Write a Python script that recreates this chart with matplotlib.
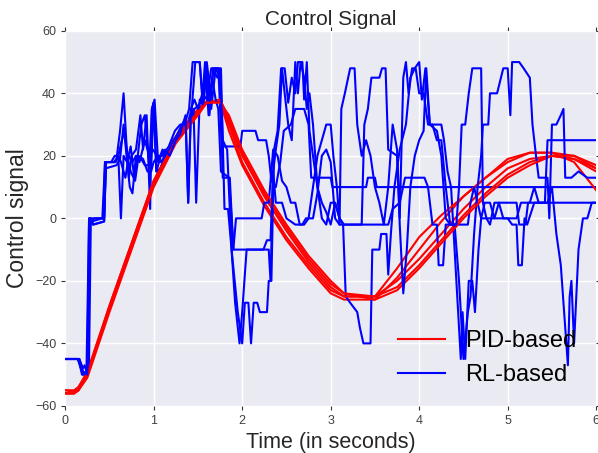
import numpy as np
import matplotlib
matplotlib.use("Agg")
import matplotlib.pyplot as plt

# --- PID-based control signal (5 runs, sampled at common times) ---
pid_time = [0, 0.1, 0.15, 0.25, 0.5, 0.75, 1.0, 1.25, 1.5, 1.6, 1.75, 1.85, 2.0, 2.25,
            2.5, 2.75, 3.0, 3.15, 3.5, 3.75, 4.0, 4.25, 4.5, 4.75, 5.0, 5.25, 5.5, 5.75, 6.0]
pid_run1 = [-56, -56, -55, -50, -29, -9, 11, 25, 34, 37, 38, 31, 20, 7, -4, -14, -22, -25, -25,
            -20, -13, -5, 3, 10, 16, 19, 20, 19, 15]
pid_run2 = [-55, -55.5, -54, -49, -28, -8, 12, 26, 35, 37.5, 37.5, 28, 17, 4, -7, -16, -24, -26,
            -26, -19, -10, -1, 7, 13, 18, 21, 21, 18, 9]
pid_run3 = [-56, -56, -55, -50, -28, -8, 12, 25, 34, 37, 37.5, 30, 18, 5, -6, -15, -23, -25, -25,
            -16, -6, 1, 7, 13, 19, 21, 21, 20, 17]
pid_run4 = [-56, -56, -55, -51, -30, -10, 10, 24, 33, 37, 38, 32, 21, 8, -3, -13, -21, -24, -25,
            -22, -15, -7, 1, 8, 14, 18, 20, 19, 16]
pid_run5 = [-55, -55, -54, -50, -29, -9, 11, 25, 34, 37, 37, 33, 22, 9, -2, -12, -20, -24, -26,
            -23, -16, -8, 0, 7, 13, 17, 20, 20, 16]

# --- RL-based control signal (5 runs, (time, value) breakpoints) ---
rl_run1 = [(0, -45), (0.15, -45), (0.19, -50), (0.24, -50), (0.27, 0), (0.3, -1), (0.33, 0),
           (0.43, 0), (0.45, 18), (0.55, 18), (0.58, 19), (0.62, 28), (0.66, 40), (0.69, 25),
           (0.72, 13), (0.75, 20), (0.8, 22), (0.85, 33), (0.88, 22), (0.92, 33), (0.96, 3),
           (0.98, 35), (1.01, 38), (1.05, 18), (1.1, 22), (1.15, 20), (1.22, 25), (1.3, 28),
           (1.38, 30), (1.43, 35), (1.47, 50), (1.52, 50), (1.56, 36), (1.6, 50), (1.64, 40),
           (1.68, 48), (1.73, 48), (1.77, 23), (1.98, 23), (2.0, 28), (2.15, 28), (2.18, 25),
           (2.27, 25), (2.3, 20), (2.33, 12), (2.38, 10), (2.43, 18), (2.47, 28), (2.55, 30),
           (2.6, 35), (2.7, 35), (2.75, 30), (2.78, 13), (3.0, 13), (3.02, 10), (3.4, 10),
           (3.42, 13), (3.5, 13), (3.52, 10), (6.0, 10)]
rl_run2 = [(0, -45), (0.14, -45), (0.18, -48), (0.23, -50), (0.26, -48), (0.28, 0), (0.31, -2),
           (0.44, -1), (0.46, 18), (0.56, 18), (0.6, 20), (0.63, 0), (0.66, 20), (0.7, 18),
           (0.74, 23), (0.78, 13), (0.82, 20), (0.86, 30), (0.9, 33), (0.94, 20), (0.97, 15),
           (1.0, 37), (1.03, 15), (1.08, 16), (1.12, 20), (1.18, 22), (1.25, 26), (1.32, 30),
           (1.36, 32), (1.39, 5), (1.42, 33), (1.45, 35), (1.48, 5), (1.52, 38), (1.56, 36),
           (1.6, 48), (1.63, 33), (1.67, 48), (1.72, 45), (1.76, 48), (1.8, 3), (1.84, 3),
           (1.88, -10), (1.95, -30), (2.0, -40), (2.03, -27), (2.07, -27), (2.1, -40), (2.13, -27),
           (2.17, -27), (2.2, -30), (2.28, -30), (2.3, -20), (2.33, -20), (2.36, 22), (2.4, 28),
           (2.44, 48), (2.48, 48), (2.52, 37), (2.56, 45), (2.6, 40), (2.63, 50), (2.68, 50),
           (2.7, 38), (2.73, 50), (2.76, 28), (2.8, 20), (2.85, 10), (2.9, 5), (2.95, 2),
           (3.0, -2), (3.05, 5), (3.1, 0), (3.14, -2), (3.17, -25), (3.22, -27), (3.3, -30),
           (3.33, -35), (3.37, -40), (3.45, -40), (3.47, -10), (3.55, -10), (3.57, -5), (3.63, -5),
           (3.65, -18), (3.68, -5), (3.72, 10), (3.78, 22), (3.85, 30), (3.9, 45), (3.95, 48),
           (4.0, 50), (4.03, 38), (4.07, 48), (4.12, 30), (4.25, 30), (4.28, 25), (4.32, 15),
           (4.36, 10), (4.4, -10), (4.44, -30), (4.47, -45), (4.49, -30), (4.52, -45), (4.56, -20),
           (4.6, -20), (4.63, -30), (4.67, -10), (4.7, 0), (4.74, 5), (4.8, 5), (4.85, 0),
           (4.9, 5), (5.1, 5), (5.13, -2), (5.2, -2), (5.23, 5), (6.0, 5)]
rl_run3 = [(0, -45), (0.16, -45), (0.2, -49), (0.25, -50), (0.27, -45), (0.29, 0), (0.32, -2),
           (0.44, -1), (0.46, 16), (0.58, 17), (0.62, 19), (0.66, 30), (0.7, 18), (0.73, 10),
           (0.76, 8), (0.8, 20), (0.84, 18), (0.9, 25), (0.95, 20), (0.99, 22), (1.04, 20),
           (1.08, 18), (1.13, 20), (1.2, 23), (1.28, 26), (1.35, 28), (1.42, 32), (1.46, 35),
           (1.5, 36), (1.55, 38), (1.6, 48), (1.65, 35), (1.7, 48), (1.75, 45), (1.78, 13),
           (1.86, 13), (1.9, -10), (2.24, -10), (2.28, -7), (2.32, -7), (2.35, 15), (2.38, 5),
           (2.45, 5), (2.5, 0), (2.6, -2), (2.68, -2), (2.72, 0), (2.8, 0), (2.85, 8), (2.9, 20),
           (2.95, 22), (3.0, 18), (3.05, 0), (3.1, -2), (3.65, -2), (3.7, 3), (3.78, 5),
           (3.84, 13), (4.06, 13), (4.1, 10), (4.15, -2), (4.2, -2), (4.22, -15), (4.27, -15),
           (4.3, -2), (4.55, -2), (4.58, 5), (4.62, 10), (4.66, 5), (4.7, 0), (5.0, 0),
           (5.05, -2), (5.1, -2), (5.12, -15), (5.16, -15), (5.19, 0), (5.22, -2), (5.3, 5),
           (5.45, 5), (5.5, 10), (5.55, -5), (5.6, -15), (5.65, -35), (5.68, -47), (5.7, -25),
           (5.72, -20), (5.75, -40), (5.8, -10), (5.85, 0), (5.9, 0), (5.95, 5), (6.0, 5)]
rl_run4 = [(0, -45), (0.15, -45), (0.2, -50), (0.25, -49), (0.27, 0), (0.3, 0), (0.44, 0),
           (0.46, 18), (0.57, 18), (0.6, 20), (0.64, 25), (0.67, 28), (0.7, 20), (0.74, 15),
           (0.79, 12), (0.83, 20), (0.88, 19), (0.93, 15), (0.97, 15), (1.0, 18), (1.05, 20),
           (1.1, 20), (1.17, 23), (1.24, 28), (1.3, 30), (1.35, 30), (1.4, 35), (1.44, 50),
           (1.52, 50), (1.55, 38), (1.58, 50), (1.62, 33), (1.66, 45), (1.7, 38), (1.73, 35),
           (1.76, 15), (1.85, 13), (1.88, 0), (1.9, -10), (1.93, 0), (2.22, 0), (2.25, 5),
           (2.3, 5), (2.35, 22), (2.4, 20), (2.45, 12), (2.5, 10), (2.55, 5), (2.6, 5),
           (2.65, -2), (2.7, -2), (2.75, 0), (2.8, 10), (2.85, 20), (2.9, 25), (2.95, 30),
           (3.0, 30), (3.03, 20), (3.07, 10), (3.1, -2), (3.12, 35), (3.16, 40), (3.22, 48),
           (3.27, 48), (3.3, 30), (3.35, 20), (3.4, 25), (3.45, 20), (3.5, 10), (3.55, 5),
           (3.6, -2), (3.65, 10), (3.7, 30), (3.75, 22), (3.78, 0), (3.82, 45), (3.85, 50),
           (3.88, 40), (3.92, 48), (3.96, 48), (4.0, 40), (4.05, 40), (4.1, 30), (4.15, 30),
           (4.2, 25), (4.25, 25), (4.3, 10), (4.35, -2), (4.4, -2), (4.45, -20), (4.5, -45),
           (4.55, -30), (4.58, -25), (4.62, -5), (4.66, 10), (4.7, 20), (4.72, 30), (4.78, 30),
           (4.8, 40), (4.88, 40), (4.95, 48), (5.0, 48), (5.03, 33), (5.05, 50), (5.13, 50),
           (5.18, 48), (5.25, 45), (5.28, 30), (5.32, 20), (5.35, 13), (5.45, 13), (5.47, 0),
           (5.5, 30), (5.55, 30), (5.6, 33), (5.63, 35), (5.65, 13), (5.72, 13), (5.8, 15),
           (5.9, 13), (6.0, 13)]
rl_run5 = [(0, -45), (0.16, -45), (0.2, -48), (0.22, -47), (0.25, -50), (0.28, 0), (0.3, -1),
           (0.42, 0), (0.45, 18), (0.52, 18), (0.56, 20), (0.6, 20), (0.63, 18), (0.68, 13),
           (0.72, 20), (0.76, 18), (0.8, 20), (0.86, 19), (0.9, 17), (0.95, 17), (0.98, 35),
           (1.0, 37), (1.03, 15), (1.08, 20), (1.13, 22), (1.18, 20), (1.25, 25), (1.3, 27),
           (1.36, 33), (1.39, 5), (1.42, 35), (1.46, 38), (1.5, 35), (1.55, 40), (1.6, 38),
           (1.65, 48), (1.75, 48), (1.78, 25), (1.83, 22), (1.88, -10), (1.92, -27), (1.97, -40),
           (2.0, -30), (2.05, -10), (2.3, -10), (2.32, -20), (2.35, 15), (2.38, 22), (2.42, 30),
           (2.45, 48), (2.48, 40), (2.52, 30), (2.56, 25), (2.6, 50), (2.63, 40), (2.66, 50),
           (2.7, 45), (2.73, 35), (2.76, 40), (2.8, 30), (2.85, 10), (2.9, 0), (2.95, -2),
           (3.0, 5), (3.05, 5), (3.1, 0), (3.15, -2), (3.35, -2), (3.38, 30), (3.42, 35),
           (3.46, 45), (3.55, 45), (3.58, 48), (3.62, 48), (3.65, 22), (3.75, 20), (3.78, -2),
           (3.82, -24), (3.86, -10), (3.9, 10), (3.95, 20), (4.0, 25), (4.05, 28), (4.08, 48),
           (4.12, 30), (4.2, 28), (4.25, 20), (4.3, 0), (4.35, -2), (4.42, -2), (4.45, 10),
           (4.48, 30), (4.52, 30), (4.56, 40), (4.6, 48), (4.7, 48), (4.72, 5), (4.76, 0),
           (4.8, -2), (4.85, 5), (4.9, 5), (4.95, 0), (5.1, 0), (5.15, 5), (5.25, 5), (5.3, 10),
           (5.35, 5), (5.42, 5), (5.45, 25), (6.0, 25)]

pid_runs = [pid_run1, pid_run2, pid_run3, pid_run4, pid_run5]
rl_runs = [rl_run1, rl_run2, rl_run3, rl_run4, rl_run5]

plt.rcParams["font.family"] = ["Liberation Sans", "DejaVu Sans"]

fig = plt.figure(figsize=(5.98, 4.53), dpi=100)
ax = fig.add_axes([0.109, 0.104, 0.888, 0.828])
ax.set_facecolor("#EAEAF2")
for s in ax.spines.values():
    s.set_visible(False)
ax.grid(True, color="white", linewidth=1.0)
ax.set_axisbelow(True)

for i in range(5):
    ax.plot(pid_time, pid_runs[i], color="red", linewidth=1.5,
            label="PID-based" if i == 0 else None)
    t, v = np.array(rl_runs[i]).T
    ax.plot(t, v, color="blue", linewidth=1.5,
            label="RL-based" if i == 0 else None)

ax.set_xlim(0, 6)
ax.set_ylim(-60, 60)
ax.set_xticks(range(0, 7))
ax.set_yticks(range(-60, 61, 20))
ax.tick_params(direction="out", length=3, width=0.8, color="#333333",
               labelsize=9, labelcolor="#404040", top=True, right=True)

ax.set_title("Control Signal", fontsize=15, color="#262626", pad=4)
ax.set_xlabel("Time (in seconds)", fontsize=15.5, color="#262626")
ax.set_ylabel("Control signal", fontsize=16.5, color="#262626")

ax.legend(loc="lower right", frameon=False, fontsize=17, handlelength=2.0,
          handletextpad=0.85, labelspacing=0.5, borderaxespad=0.45)

fig.savefig("out.png", dpi=100)
